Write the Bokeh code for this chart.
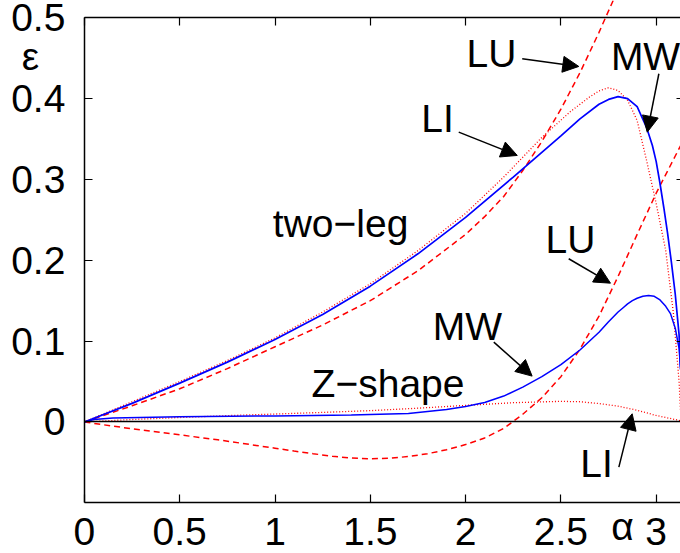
from bokeh.plotting import figure
from bokeh.models import Range1d, Label, Arrow, NormalHead, LinearAxis, FixedTicker
from bokeh.embed import file_html
from bokeh.resources import INLINE

# ---------------- data ----------------
x_ticks = [0, 0.5, 1, 1.5, 2, 2.5, 3]
x_tick_labels = ["0", "0.5", "1", "1.5", "2", "2.5", "3"]
y_ticks = [0, 0.1, 0.2, 0.3, 0.4, 0.5]
y_tick_labels = ["0", "0.1", "0.2", "0.3", "0.4", "0.5"]
x_name = "\u03b1"
y_name = "\u03b5"

# two-leg, MW (blue solid)
x_tl_mw = [0, 0.25, 0.5, 0.75, 1.0, 1.25, 1.5, 1.75, 2.0, 2.25, 2.5, 2.6, 2.7, 2.75, 2.8,
           2.85, 2.9, 2.95, 2.98, 3.0, 3.02, 3.04, 3.06, 3.08, 3.1, 3.12, 3.1275]
y_tl_mw = [0, 0.023, 0.048, 0.074, 0.102, 0.133, 0.168, 0.208, 0.253, 0.303, 0.354, 0.375,
           0.393, 0.399, 0.4025, 0.400, 0.390, 0.364, 0.342, 0.322, 0.295, 0.265, 0.233,
           0.197, 0.158, 0.108, 0.065]
# two-leg, LI (red dotted)
x_tl_li = [0, 0.25, 0.5, 0.75, 1.0, 1.25, 1.5, 1.75, 2.0, 2.2, 2.4, 2.55, 2.65, 2.7, 2.75,
           2.8, 2.85, 2.9, 2.95, 3.0, 3.05, 3.09, 3.12, 3.1275]
y_tl_li = [0, 0.025, 0.050, 0.076, 0.104, 0.136, 0.171, 0.212, 0.258, 0.303, 0.352, 0.384,
           0.402, 0.4095, 0.4135, 0.410, 0.398, 0.373, 0.323, 0.270, 0.212, 0.135, 0.050, 0.014]
# two-leg, LU (red dashed)
x_tl_lu = [0, 0.25, 0.5, 0.75, 1.0, 1.25, 1.5, 1.75, 2.0, 2.1, 2.2, 2.3, 2.4, 2.5, 2.6, 2.7, 2.8]
y_tl_lu = [0, 0.020, 0.041, 0.066, 0.093, 0.120, 0.150, 0.187, 0.232, 0.254, 0.279, 0.311,
           0.347, 0.387, 0.432, 0.482, 0.535]

# Z-shape, MW (blue solid)
x_z_mw = [0, 0.05, 0.15, 0.5, 1.0, 1.4, 1.7, 1.9, 2.0, 2.1, 2.2, 2.3, 2.4, 2.5, 2.6, 2.7,
          2.75, 2.8, 2.825, 2.85, 2.875, 2.9, 2.93, 2.96, 2.99, 3.02, 3.05, 3.075, 3.1,
          3.12, 3.1275]
y_z_mw = [0, 0.003, 0.005, 0.0065, 0.0075, 0.0085, 0.0105, 0.0155, 0.019, 0.024, 0.032, 0.043,
          0.056, 0.071, 0.089, 0.111, 0.124, 0.136, 0.141, 0.146, 0.150, 0.153, 0.1555,
          0.1565, 0.1555, 0.151, 0.143, 0.134, 0.116, 0.091, 0.068]
# Z-shape, LI (red dotted)
x_z_li = [0, 0.25, 0.5, 0.75, 1.0, 1.25, 1.5, 1.75, 2.0, 2.25, 2.5, 2.6, 2.7, 2.8, 2.9, 3.0,
          3.1, 3.1275]
y_z_li = [0, 0.003, 0.0055, 0.0078, 0.0098, 0.0118, 0.014, 0.017, 0.0205, 0.0238, 0.0255,
          0.025, 0.0228, 0.0195, 0.0145, 0.008, 0.003, 0.0015]
# Z-shape, LU (red dashed)
x_z_lu = [0, 0.1, 0.2, 0.3, 0.5, 0.7, 0.9, 1.0, 1.1, 1.2, 1.3, 1.4, 1.5, 1.6, 1.7, 1.8, 1.9,
          2.0, 2.1, 2.2, 2.3, 2.4, 2.5, 2.6, 2.7, 2.8, 2.9, 3.0, 3.1, 3.1416]
y_z_lu = [0, -0.0035, -0.0068, -0.0100, -0.0160, -0.0220, -0.0290, -0.0325, -0.0360, -0.0393,
          -0.0424, -0.0446, -0.0455, -0.0449, -0.0428, -0.0393, -0.0344, -0.0280, -0.0198,
          -0.0080, 0.0095, 0.030, 0.056, 0.090, 0.131, 0.180, 0.232, 0.283, 0.329, 0.348]

FONT = "Liberation Sans"
FS = "39px"
X_MIN, X_MAX = 0, 3.1275
Y_MIN, Y_MAX = -0.1, 0.5
# the drawing area covers the whole page; the axes are pinned at the data box edges
X_VIEW = (-0.4402, X_MAX)
Y_VIEW = (-0.16275, 0.5214)

p = figure(width=680, height=553, x_range=Range1d(*X_VIEW), y_range=Range1d(*Y_VIEW),
           output_backend="svg", toolbar_location=None,
           min_border_left=0, min_border_right=0, min_border_top=0, min_border_bottom=0)
p.grid.visible = False
p.outline_line_color = None
p.background_fill_color = "white"
p.border_fill_color = "white"

BLUE = "#0000ff"
RED = "#ff0000"

p.line(x_tl_lu, y_tl_lu, line_color=RED, line_width=1.5, line_dash="6 4")
p.line(x_z_lu, y_z_lu, line_color=RED, line_width=1.5, line_dash="6 4")
p.line(x_tl_li, y_tl_li, line_color=RED, line_width=1.3, line_dash="1 2")
p.line(x_z_li, y_z_li, line_color=RED, line_width=1.3, line_dash="1 2")
p.line(x_tl_mw, y_tl_mw, line_color=BLUE, line_width=1.7)
p.line(x_z_mw, y_z_mw, line_color=BLUE, line_width=1.5)

def style(ax, tick_in, labels=True):
    ax.major_tick_in = tick_in
    ax.major_tick_out = 0
    ax.minor_tick_line_color = None
    ax.axis_line_width = 1.5
    ax.major_tick_line_width = 1.2
    ax.major_label_text_font = FONT
    ax.major_label_text_font_size = FS if labels else "0px"
    ax.major_label_text_color = "black"

# bottom axis
xa = p.xaxis[0]
xa.ticker = FixedTicker(ticks=x_ticks)
xa.major_label_overrides = {t: l for t, l in zip(x_ticks, x_tick_labels)}
xa.fixed_location = Y_MIN
xa.bounds = (X_MIN, X_MAX)
style(xa, 8)
xa.major_label_standoff = 15

# left axis
ya = p.yaxis[0]
ya.ticker = FixedTicker(ticks=y_ticks)
ya.major_label_overrides = {t: l for t, l in zip(y_ticks, y_tick_labels)}
ya.fixed_location = X_MIN
ya.bounds = (Y_MIN, Y_MAX)
style(ya, 8)
ya.major_label_standoff = 19

# top and right frame edges with inward ticks
top = LinearAxis(ticker=FixedTicker(ticks=x_ticks), major_label_standoff=0,
                 fixed_location=Y_MAX, bounds=(X_MIN, X_MAX))
style(top, 8, labels=False)
p.add_layout(top, "above")
right = LinearAxis(ticker=FixedTicker(ticks=y_ticks), major_label_standoff=0,
                   fixed_location=X_MAX, bounds=(Y_MIN, Y_MAX), axis_line_color=None)
style(right, 4, labels=False)
p.add_layout(right, "right")

# zero line
zero = LinearAxis(ticker=FixedTicker(ticks=[]), fixed_location=0, bounds=(X_MIN, X_MAX),
                  major_tick_line_color=None)
style(zero, 0, labels=False)
zero.axis_line_width = 1.3
p.add_layout(zero, "below")

# text labels
DY = 0.017
def lab(x, y, t):
    p.add_layout(Label(x=x, y=y + DY, text=t, text_font=FONT, text_font_size=FS,
                       text_align="center", text_baseline="alphabetic", text_color="black"))

lab(2.136, 0.4386, "LU")
lab(2.944, 0.4349, "MW")
lab(1.853, 0.3585, "LI")
lab(1.344, 0.2283, "two\u2212leg")
lab(2.550, 0.2085, "LU")
lab(2.010, 0.1008, "MW")
lab(1.593, 0.0303, "Z\u2212shape")
lab(2.687, -0.0683, "LI")
lab(-0.283, 0.4349, y_name)
lab(2.823, -0.1466, x_name)

def arr(x0, y0, x1, y1):
    p.add_layout(Arrow(end=NormalHead(size=16, fill_color="black", line_color="black",
                                      line_width=1),
                       x_start=x0, y_start=y0, x_end=x1, y_end=y1,
                       line_color="black", line_width=1.5))

arr(2.297, 0.4493, 2.594, 0.4398)
arr(3.014, 0.4308, 2.953, 0.3585)
arr(1.964, 0.3585, 2.271, 0.3297)
arr(2.541, 0.2019, 2.760, 0.1717)
arr(2.148, 0.0987, 2.349, 0.0567)
arr(2.804, -0.0559, 2.874, 0.0101)

open("out.html", "w").write(file_html(p, INLINE))
